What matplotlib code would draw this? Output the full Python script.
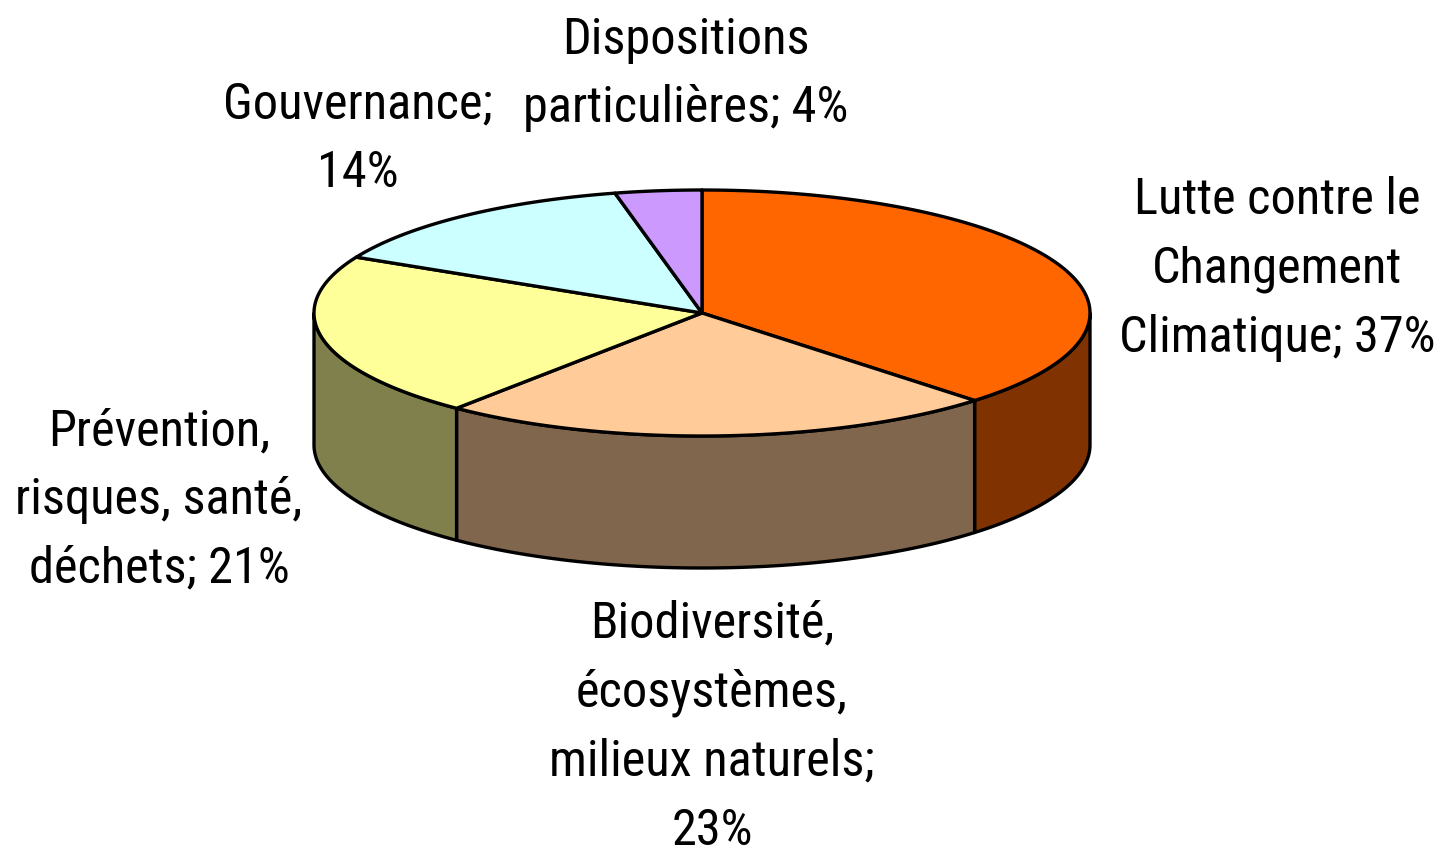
"""3D-look pie of the shares by theme, drawn from plain polygons."""

import numpy as np
import matplotlib
matplotlib.use("Agg")
import matplotlib.pyplot as plt

plt.rcParams["font.family"] = ["Roboto Condensed", "Liberation Sans", "DejaVu Sans"]

labels = [
    "Lutte contre le\nChangement\nClimatique; 37%",
    "Biodiversité,\nécosystèmes,\nmilieux naturels;\n23%",
    "Prévention,\nrisques, santé,\ndéchets; 21%",
    "Gouvernance;\n14%",
    "Dispositions\nparticulières; 4%",
]
# the labels are rounded
shares = [37.6, 23.3, 21.6, 13.9, 3.6]
top_colors = ["#FF6600", "#FFCC99", "#FFFF99", "#CCFFFF", "#CC99FF"]
side_colors = ["#803300", "#80664D", "#80804D", "#668080", "#664D80"]
label_pos = [(1277, 269), (712, 727), (159, 500), (358, 139), (686, 74)]

CX, CY = 702, 313
RX, RY = 388, 123
DEPTH = 132


def rim(angles):
    rad = np.radians(angles)
    return CX + RX * np.sin(rad), CY - RY * np.cos(rad)


fig = plt.figure(figsize=(14.45, 8.5), dpi=100)
ax = fig.add_axes([0, 0, 1, 1])
ax.set_xlim(0, 1445)
ax.set_ylim(850, 0)
ax.axis("off")

edges = np.concatenate([[0], np.cumsum(shares)]) / sum(shares) * 360

# side wall first, only the part of the rim that faces the viewer
for i in range(len(shares)):
    start, stop = max(edges[i], 90), min(edges[i + 1], 270)
    if start >= stop:
        continue
    x, y = rim(np.linspace(start, stop, 80))
    ax.fill(
        np.r_[x, x[::-1]], np.r_[y, y[::-1] + DEPTH],
        facecolor=side_colors[i], edgecolor="black", lw=2.4, joinstyle="round",
    )

for i in range(len(shares)):
    x, y = rim(np.linspace(edges[i], edges[i + 1], 150))
    ax.fill(
        np.r_[CX, x], np.r_[CY, y],
        facecolor=top_colors[i], edgecolor="black", lw=2.4, joinstyle="round",
    )

for label, (lx, ly) in zip(labels, label_pos):
    ax.text(lx, ly, label, ha="center", va="center", fontsize=36.3, linespacing=1.55, color="black")

fig.savefig("out.png", dpi=100)
